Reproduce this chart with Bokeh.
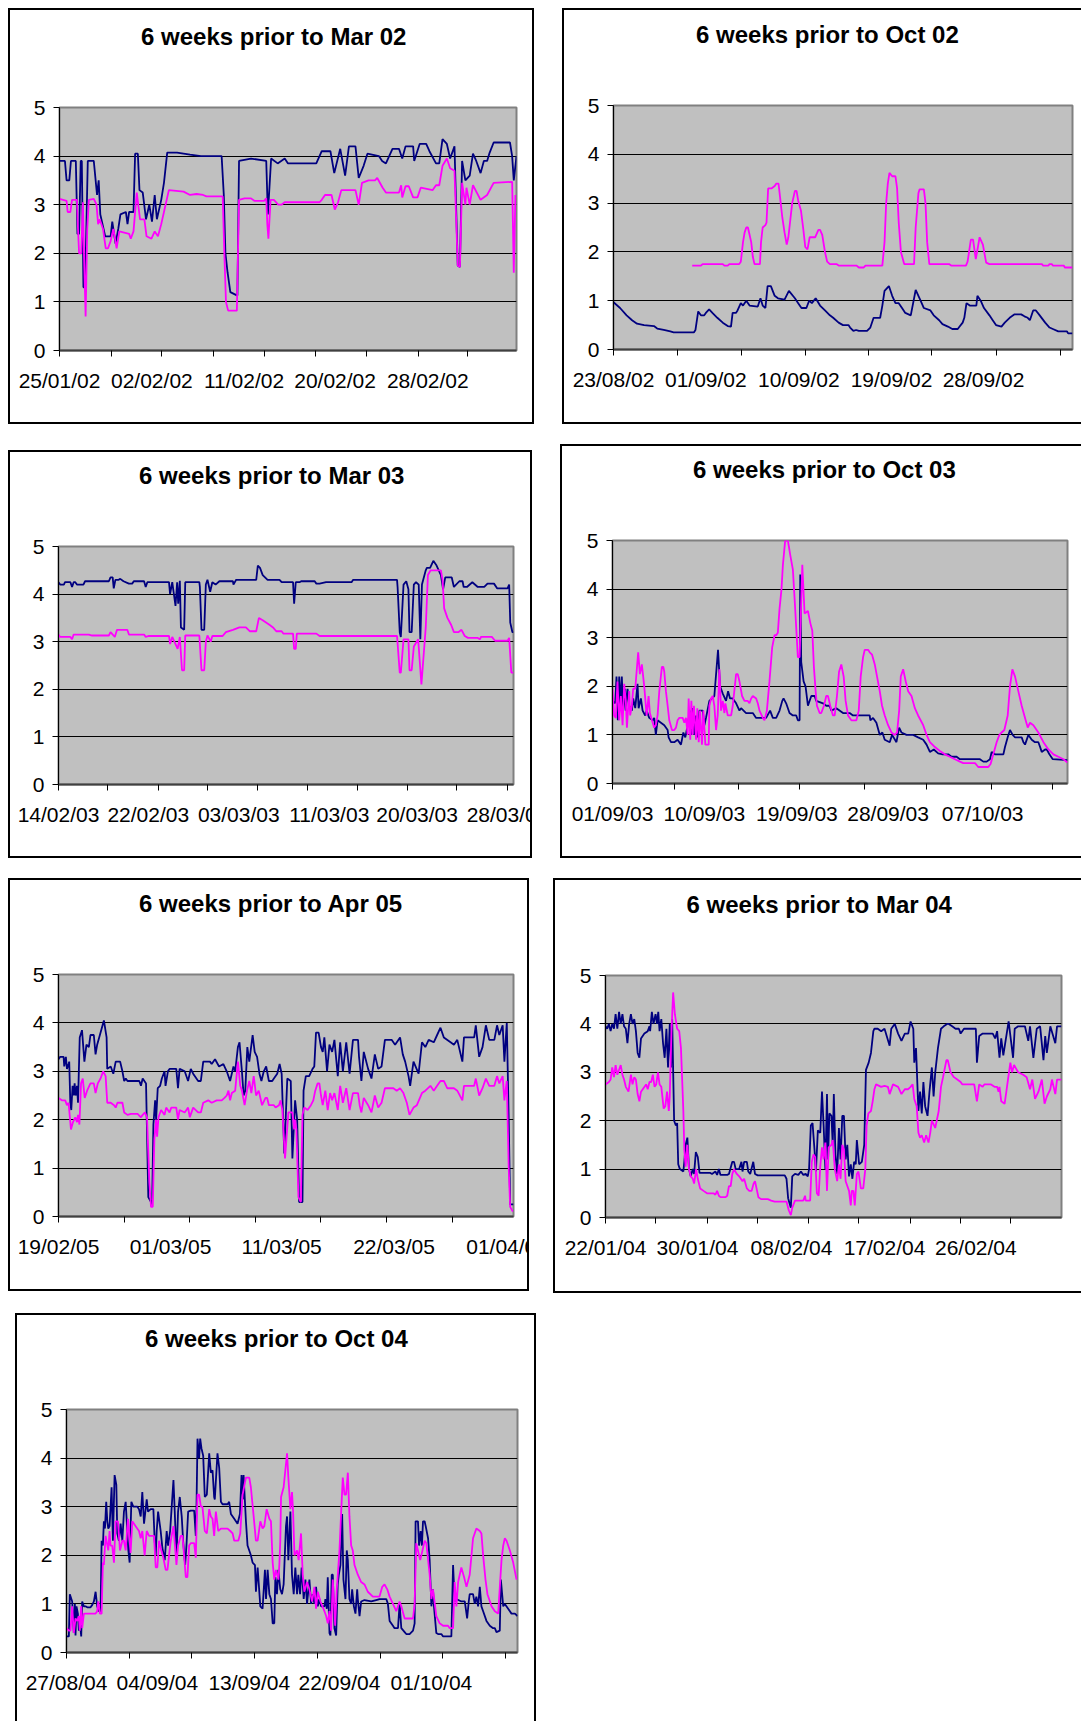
from bokeh.plotting import figure
from bokeh.layouts import column, row
from bokeh.models import FixedTicker, Spacer, Range1d, Title
from bokeh.embed import file_html
from bokeh.resources import INLINE

NAVY = "#000080"
MAGENTA = "#FF00FF"
FONT = "Liberation Sans"

# ---------------- 6 weeks prior to Mar 02 ----------------
mar02_title = "6 weeks prior to Mar 02"
mar02_label_days = [0, 8.49, 16.96, 25.33, 33.85]
mar02_labels = ["25/01/02", "02/02/02", "11/02/02", "20/02/02", "28/02/02"]
mar02_tick_days = [0, 4.77, 9.39, 14.13, 18.82, 23.56, 28.18, 32.98, 37.54]
mar02_navy = [
    (0, 3.9), (0.5, 3.9), (0.65, 3.5), (0.9, 3.5), (1.05, 3.9), (1.5, 3.9), (1.65, 2.4), (1.8, 2.4), (1.95, 3.9), (2.05, 3.9),
    (2.2, 1.3), (2.35, 1.3), (2.6, 3.9), (3.15, 3.9), (3.45, 3.2), (3.6, 3.5), (3.75, 2.8), (4.2, 2.35), (4.7, 2.35), (4.85, 2.65),
    (5.15, 2.2), (5.4, 2.5), (5.6, 2.8), (6.1, 2.85), (6.25, 2.6), (6.4, 2.85), (6.8, 2.85), (6.95, 4.05), (7.2, 4.05), (7.35, 3.3),
    (7.65, 3.25), (7.95, 2.7), (8.25, 3.0), (8.5, 2.65), (8.75, 3.2), (8.95, 2.7), (9.35, 3.1), (9.6, 3.45), (9.9, 4.07), (10.8, 4.07),
    (12.0, 4.03), (13.0, 4.0), (14.9, 4.0), (15.1, 3.2), (15.25, 2.0), (15.45, 1.6), (15.7, 1.2), (16.35, 1.13), (16.5, 3.9), (17.6, 3.95),
    (19.0, 3.9), (19.15, 2.8), (19.45, 3.95), (20.05, 3.85), (20.7, 3.95), (21.0, 3.85), (23.6, 3.85), (24.1, 4.1), (24.9, 4.1), (25.25, 3.65),
    (25.8, 4.15), (26.25, 3.6), (26.6, 4.2), (27.2, 4.2), (27.5, 3.55), (27.95, 3.8), (28.3, 4.05), (29.35, 4.0), (29.65, 3.9), (30.0, 3.85),
    (30.6, 4.15), (31.2, 4.15), (31.5, 3.95), (31.8, 4.2), (32.5, 4.2), (32.6, 3.9), (33.1, 4.25), (33.7, 4.25), (34.0, 4.1), (34.6, 3.85),
    (34.9, 3.85), (35.2, 4.35), (35.6, 4.25), (35.9, 3.95), (36.3, 4.2), (36.6, 1.75), (36.8, 1.72), (37.0, 3.9), (37.3, 3.5), (37.7, 3.6),
    (38.0, 4.05), (38.3, 3.9), (38.7, 3.65), (39.0, 3.9), (39.3, 3.9), (39.5, 4.05), (39.9, 4.28), (41.4, 4.28), (41.6, 4.0), (41.75, 3.5), (42.0, 4.0),
]
mar02_magenta = [
    (0, 3.12), (0.65, 3.08), (0.75, 2.85), (1.0, 2.85), (1.15, 3.1), (1.6, 3.1), (1.7, 2.5), (1.8, 2.0), (2.0, 2.0), (2.15, 3.05),
    (2.25, 2.0), (2.4, 0.7), (2.55, 2.5), (2.7, 3.1), (3.15, 3.12), (3.4, 3.0), (3.55, 2.6), (3.7, 2.7), (4.0, 2.5), (4.25, 2.1),
    (4.45, 2.1), (4.7, 2.25), (4.95, 2.5), (5.25, 2.1), (5.5, 2.45), (6.4, 2.4), (6.55, 2.3), (6.8, 2.45), (7.1, 3.25), (7.4, 2.7),
    (7.8, 2.7), (8.0, 2.35), (8.45, 2.3), (8.75, 2.45), (9.05, 2.35), (9.35, 2.6), (9.65, 2.9), (10.05, 3.3), (11.4, 3.27), (12.0, 3.2),
    (12.6, 3.22), (13.2, 3.2), (13.5, 3.17), (15.0, 3.17), (15.15, 2.0), (15.3, 1.0), (15.5, 0.82), (16.3, 0.82), (16.5, 3.1), (17.0, 3.13),
    (17.6, 3.13), (17.9, 3.08), (18.8, 3.08), (19.0, 3.13), (19.1, 2.6), (19.2, 2.3), (19.4, 3.1), (19.7, 3.1), (20.1, 3.0), (20.4, 3.0),
    (20.7, 3.05), (23.9, 3.05), (24.1, 3.1), (24.4, 3.2), (25.0, 3.2), (25.3, 2.9), (25.6, 3.05), (25.9, 3.3), (27.2, 3.3), (27.5, 3.0),
    (27.8, 3.45), (28.4, 3.5), (29.0, 3.5), (29.2, 3.55), (29.7, 3.35), (30.0, 3.25), (31.2, 3.25), (31.4, 3.4), (31.5, 3.15), (31.8, 3.38),
    (32.1, 3.38), (32.5, 3.15), (32.9, 3.15), (33.2, 3.35), (34.3, 3.3), (34.6, 3.4), (34.9, 3.4), (35.2, 3.8), (35.6, 3.95), (35.9, 3.75),
    (36.3, 3.7), (36.6, 1.75), (36.8, 1.72), (37.0, 3.45), (37.3, 3.0), (37.4, 3.35), (37.7, 3.0), (38.0, 3.4), (38.7, 3.1), (39.3, 3.2),
    (39.9, 3.45), (41.6, 3.47), (41.75, 1.6), (41.9, 3.2),
]

# ---------------- 6 weeks prior to Oct 02 ----------------
oct02_title = "6 weeks prior to Oct 02"
oct02_label_days = [0, 8.45, 16.96, 25.44, 33.86]
oct02_labels = ["23/08/02", "01/09/02", "10/09/02", "19/09/02", "28/09/02"]
oct02_tick_days = [0, 5.9, 11.67, 17.54, 23.35, 29.12, 35.02, 40.92]
oct02_navy = [
    (0, 0.97), (0.6, 0.85), (1.2, 0.7), (1.7, 0.6), (2.15, 0.53), (2.8, 0.5), (3.7, 0.48), (4.0, 0.43), (4.6, 0.4), (5.2, 0.37),
    (5.5, 0.35), (7.35, 0.35), (7.5, 0.4), (7.75, 0.78), (8.0, 0.7), (8.3, 0.7), (8.45, 0.75), (8.75, 0.82), (9.05, 0.75), (9.5, 0.65),
    (10.0, 0.55), (10.45, 0.48), (10.75, 0.47), (10.9, 0.75), (11.2, 0.75), (11.35, 0.8), (11.65, 0.95), (11.85, 0.9), (12.15, 1.0), (12.45, 0.9),
    (13.2, 0.88), (13.45, 1.05), (13.65, 0.9), (13.9, 0.85), (14.1, 1.3), (14.4, 1.3), (14.75, 1.1), (15.05, 1.05), (15.65, 1.02), (16.05, 1.2),
    (16.6, 1.05), (16.9, 0.95), (17.2, 0.85), (17.65, 0.85), (17.9, 1.0), (18.15, 0.95), (18.5, 1.05), (18.9, 0.9), (19.35, 0.8), (19.8, 0.7),
    (20.1, 0.65), (20.6, 0.55), (21.0, 0.5), (21.5, 0.5), (21.65, 0.45), (21.95, 0.38), (22.2, 0.4), (22.45, 0.38), (23.2, 0.38), (23.5, 0.45),
    (23.8, 0.65), (24.4, 0.65), (24.6, 0.9), (24.8, 1.2), (25.2, 1.3), (25.5, 1.1), (25.8, 0.95), (26.1, 0.95), (26.4, 0.85), (26.7, 0.75),
    (27.2, 0.7), (27.65, 1.22), (28.1, 1.0), (28.4, 0.85), (29.0, 0.8), (29.3, 0.7), (29.8, 0.6), (30.1, 0.52), (30.6, 0.47), (31.0, 0.42),
    (31.5, 0.42), (31.6, 0.45), (31.95, 0.55), (32.1, 0.65), (32.3, 0.95), (32.6, 0.9), (33.2, 0.9), (33.3, 1.1), (33.6, 1.0), (33.9, 0.85),
    (34.4, 0.7), (34.7, 0.6), (35.0, 0.5), (35.5, 0.47), (35.8, 0.55), (36.25, 0.65), (36.7, 0.72), (37.3, 0.72), (37.6, 0.68), (37.9, 0.65),
    (38.1, 0.6), (38.4, 0.8), (38.65, 0.8), (39.0, 0.7), (39.5, 0.55), (39.9, 0.45), (40.2, 0.42), (40.7, 0.37), (41.5, 0.37), (41.6, 0.33), (42.0, 0.33),
]
oct02_magenta = [
    (7.2, 1.72), (8.0, 1.72), (8.15, 1.75), (10.0, 1.75), (10.15, 1.72), (10.45, 1.72), (10.6, 1.75), (11.5, 1.75), (11.65, 1.8), (11.85, 2.2),
    (12.0, 2.4), (12.15, 2.5), (12.3, 2.5), (12.45, 2.35), (12.6, 2.2), (12.75, 1.9), (12.9, 1.75), (13.4, 1.75), (13.5, 2.2), (13.65, 2.5),
    (13.9, 2.55), (14.0, 2.6), (14.15, 3.3), (14.45, 3.3), (14.75, 3.35), (14.9, 3.4), (15.1, 3.4), (15.25, 3.1), (15.45, 2.7), (15.65, 2.4),
    (15.85, 2.15), (16.0, 2.3), (16.15, 2.6), (16.35, 3.0), (16.6, 3.25), (16.75, 3.25), (16.9, 3.05), (17.15, 2.85), (17.35, 2.5), (17.55, 2.1),
    (17.75, 2.05), (17.95, 2.3), (18.45, 2.3), (18.75, 2.45), (18.9, 2.45), (19.1, 2.35), (19.35, 2.0), (19.55, 1.8), (19.8, 1.75), (20.4, 1.75),
    (20.6, 1.72), (22.25, 1.72), (22.45, 1.68), (22.9, 1.68), (23.05, 1.72), (24.6, 1.72), (24.8, 2.2), (24.95, 3.0), (25.1, 3.4), (25.25, 3.62),
    (25.5, 3.55), (25.8, 3.55), (25.95, 3.3), (26.1, 2.6), (26.3, 2.0), (26.6, 1.75), (27.5, 1.75), (27.65, 2.5), (27.9, 3.2), (28.0, 3.28),
    (28.4, 3.28), (28.55, 3.0), (28.7, 2.2), (28.9, 1.75), (30.7, 1.75), (30.9, 1.72), (32.25, 1.72), (32.4, 1.8), (32.7, 2.25), (32.9, 2.25),
    (33.15, 1.85), (33.5, 2.3), (33.8, 2.15), (34.1, 1.78), (34.4, 1.75), (39.2, 1.75), (39.3, 1.72), (39.8, 1.72), (39.9, 1.75), (40.1, 1.75),
    (40.2, 1.72), (41.2, 1.72), (41.3, 1.68), (42.0, 1.68),
]

# ---------------- 6 weeks prior to Mar 03 ----------------
mar03_title = "6 weeks prior to Mar 03"
mar03_label_days = [0, 8.29, 16.64, 24.99, 33.1, 41.45]
mar03_labels = ["14/02/03", "22/02/03", "03/03/03", "11/03/03", "20/03/03", "28/03/03"]
mar03_tick_days = [0, 4.55, 9.22, 13.73, 18.4, 22.98, 27.56, 32.23, 36.78, 41.45]
mar03_navy = [
    (0, 4.25), (0.15, 4.2), (0.5, 4.2), (0.6, 4.25), (1.1, 4.25), (1.25, 4.15), (1.4, 4.25), (1.55, 4.25), (1.7, 4.2), (2.3, 4.2),
    (2.45, 4.27), (4.65, 4.27), (4.8, 4.35), (5.0, 4.35), (5.1, 4.12), (5.25, 4.3), (5.55, 4.3), (5.7, 4.32), (6.0, 4.27), (6.5, 4.22),
    (6.8, 4.22), (6.95, 4.27), (7.9, 4.27), (8.05, 4.15), (8.2, 4.25), (10.2, 4.25), (10.3, 4.0), (10.5, 4.25), (10.8, 3.75), (10.95, 4.25),
    (11.05, 3.8), (11.2, 4.28), (11.3, 3.3), (11.6, 3.25), (11.7, 4.25), (13.0, 4.25), (13.05, 4.15), (13.2, 3.25), (13.45, 3.25), (13.6, 4.2),
    (13.75, 4.3), (14.0, 4.05), (14.2, 4.25), (14.5, 4.2), (14.85, 4.27), (16.1, 4.27), (16.15, 4.2), (16.4, 4.3), (18.25, 4.3), (18.4, 4.6),
    (18.6, 4.55), (18.85, 4.4), (19.3, 4.3), (20.4, 4.3), (20.6, 4.25), (21.65, 4.25), (21.75, 3.8), (21.9, 4.25), (22.25, 4.25), (22.4, 4.27),
    (23.65, 4.27), (23.8, 4.22), (24.1, 4.22), (24.7, 4.25), (27.05, 4.25), (27.2, 4.3), (31.25, 4.3), (31.3, 4.15), (31.5, 3.2), (31.6, 3.1),
    (31.85, 4.2), (32.1, 4.27), (32.3, 4.1), (32.4, 3.2), (32.6, 3.2), (32.8, 4.2), (33.0, 4.25), (33.25, 4.2), (33.4, 3.05), (33.55, 4.2),
    (33.9, 4.5), (34.0, 4.55), (34.3, 4.55), (34.6, 4.7), (34.9, 4.6), (35.3, 4.4), (35.5, 4.1), (35.7, 4.35), (36.3, 4.35), (36.5, 4.15),
    (37.0, 4.27), (37.3, 4.27), (37.4, 4.15), (37.7, 4.15), (38.2, 4.25), (38.7, 4.15), (39.3, 4.15), (39.6, 4.22), (40.2, 4.22), (40.5, 4.12),
    (41.45, 4.12), (41.6, 4.2), (41.7, 3.4), (41.9, 3.2), (42.0, 3.2),
]
mar03_magenta = [
    (0, 3.15), (0.15, 3.1), (1.1, 3.1), (1.25, 3.05), (1.4, 3.15), (2.8, 3.15), (3.1, 3.13), (4.65, 3.13), (4.8, 3.2), (5.2, 3.1),
    (5.4, 3.25), (6.35, 3.25), (6.5, 3.15), (7.9, 3.15), (8.05, 3.1), (8.35, 3.12), (10.2, 3.12), (10.3, 2.95), (10.5, 3.1), (11.0, 2.85),
    (11.2, 3.1), (11.4, 2.4), (11.6, 2.4), (11.7, 3.13), (13.0, 3.13), (13.2, 2.4), (13.45, 2.4), (13.6, 3.0), (13.75, 3.13), (14.05, 3.0),
    (14.2, 3.12), (15.15, 3.12), (15.45, 3.2), (16.1, 3.25), (16.7, 3.3), (17.3, 3.3), (17.65, 3.22), (18.25, 3.22), (18.5, 3.5), (18.85, 3.45),
    (19.5, 3.35), (19.8, 3.3), (20.1, 3.22), (20.6, 3.22), (20.75, 3.17), (21.65, 3.17), (21.75, 2.85), (21.9, 2.85), (22.0, 3.17), (23.8, 3.17),
    (24.1, 3.12), (31.25, 3.12), (31.5, 2.35), (31.6, 2.35), (31.85, 3.05), (32.3, 3.05), (32.4, 2.4), (32.6, 2.4), (32.8, 2.9), (33.2, 3.05),
    (33.5, 2.1), (33.8, 3.0), (33.9, 3.3), (34.1, 4.4), (34.35, 4.5), (35.3, 4.5), (35.45, 4.3), (35.6, 3.7), (35.9, 3.5), (36.25, 3.35),
    (36.5, 3.2), (36.9, 3.2), (37.2, 3.25), (37.5, 3.12), (37.8, 3.08), (38.7, 3.08), (38.9, 3.05), (39.0, 3.1), (40.0, 3.1), (40.3, 3.02),
    (41.45, 3.02), (41.6, 3.08), (41.8, 2.35), (42.0, 2.35),
]

# ---------------- 6 weeks prior to Oct 03 ----------------
oct03_title = "6 weeks prior to Oct 03"
oct03_label_days = [0, 8.48, 17.02, 25.44, 34.17]
oct03_labels = ["01/09/03", "10/09/03", "19/09/03", "28/09/03", "07/10/03"]
oct03_tick_days = [0, 5.7, 11.63, 17.3, 23.25, 28.99, 34.94, 40.64]
oct03_navy = [
    (0, 1.7), (0.25, 1.65), (0.37, 2.2), (0.49, 1.3), (0.62, 2.2), (0.71, 1.6), (0.86, 2.2), (0.99, 1.5), (1.17, 1.95), (1.23, 1.5),
    (1.39, 1.95), (1.54, 1.6), (1.79, 1.5), (1.91, 1.75), (2.1, 1.55), (2.31, 2.05), (2.41, 1.55), (2.62, 1.75), (2.78, 1.5), (3.02, 1.4),
    (3.15, 1.5), (3.39, 1.35), (3.7, 1.3), (3.85, 1.35), (4.0, 1.0), (4.16, 1.3), (4.47, 1.25), (4.78, 1.2), (5.09, 1.1), (5.18, 0.95),
    (5.4, 0.85), (5.7, 0.85), (6.01, 0.9), (6.32, 0.8), (6.54, 1.05), (6.72, 0.95), (6.94, 1.2), (7.15, 1.5), (7.25, 1.0), (7.4, 1.55),
    (7.55, 1.0), (7.71, 1.4), (7.86, 0.95), (8.02, 1.5), (8.33, 1.5), (8.48, 1.2), (8.63, 1.35), (8.94, 1.7), (9.4, 1.8), (9.74, 2.75),
    (9.93, 2.0), (10.18, 1.85), (10.48, 1.7), (10.67, 1.9), (10.85, 1.75), (11.1, 1.75), (11.41, 1.65), (11.72, 1.5), (11.87, 1.55), (12.33, 1.45),
    (12.95, 1.45), (13.26, 1.35), (14.18, 1.35), (14.55, 1.5), (14.8, 1.35), (15.11, 1.35), (15.42, 1.5), (15.67, 1.7), (15.79, 1.75), (16.03, 1.65),
    (16.34, 1.45), (16.65, 1.4), (16.96, 1.4), (17.11, 1.3), (17.27, 1.3), (17.33, 4.3), (17.42, 2.5), (17.64, 2.1), (17.82, 2.0), (18.04, 1.6),
    (18.35, 1.8), (18.66, 1.8), (18.81, 1.7), (19.43, 1.65), (19.73, 1.6), (20.04, 1.6), (20.2, 1.5), (20.66, 1.55), (21.28, 1.45), (21.89, 1.45),
    (22.2, 1.4), (23.74, 1.4), (23.8, 1.3), (24.05, 1.35), (24.36, 1.25), (24.67, 1.0), (24.91, 1.05), (25.13, 0.9), (25.59, 0.85), (25.81, 1.0),
    (26.21, 0.85), (26.46, 1.15), (26.67, 1.05), (27.14, 1.0), (27.75, 1.0), (28.21, 0.95), (28.68, 0.9), (28.99, 0.8), (29.3, 0.65), (29.66, 0.7),
    (30.06, 0.62), (30.47, 0.6), (30.99, 0.6), (31.3, 0.55), (31.76, 0.55), (32.07, 0.5), (33.92, 0.5), (34.23, 0.45), (34.54, 0.45), (34.84, 0.5),
    (35.0, 0.65), (35.3, 0.6), (36.08, 0.6), (36.23, 0.75), (36.48, 0.95), (36.69, 1.1), (36.94, 1.0), (37.16, 0.95), (37.77, 0.95), (37.93, 0.85),
    (38.08, 0.8), (38.39, 1.0), (38.7, 0.9), (39.0, 0.85), (39.31, 0.85), (39.47, 0.75), (39.62, 0.65), (39.93, 0.7), (40.09, 0.7), (40.33, 0.6),
    (40.64, 0.5), (42.0, 0.48),
]
oct03_magenta = [
    (0, 1.95), (0.15, 1.4), (0.31, 1.35), (0.46, 2.1), (0.62, 1.3), (0.77, 1.8), (0.93, 1.2), (1.08, 2.05), (1.23, 1.7), (1.33, 1.15),
    (1.54, 1.9), (1.63, 1.4), (1.79, 1.6), (1.91, 1.95), (2.1, 1.95), (2.37, 2.7), (2.53, 2.25), (2.71, 2.45), (2.93, 2.0), (3.15, 1.4),
    (3.33, 1.8), (3.45, 1.45), (3.64, 1.3), (3.85, 1.15), (4.0, 1.2), (4.16, 1.4), (4.32, 1.9), (4.56, 2.4), (4.69, 2.4), (4.78, 2.3),
    (4.93, 1.9), (5.09, 1.6), (5.24, 1.3), (5.49, 1.1), (5.7, 1.1), (5.86, 1.15), (6.01, 1.3), (6.17, 1.35), (6.48, 1.35), (6.63, 1.25),
    (6.78, 1.35), (6.94, 1.0), (7.03, 1.75), (7.18, 0.9), (7.28, 1.7), (7.4, 1.0), (7.52, 1.6), (7.71, 0.9), (7.83, 1.55), (7.96, 0.85),
    (8.08, 1.5), (8.26, 0.8), (8.39, 1.5), (8.57, 0.8), (8.88, 0.8), (8.94, 1.6), (9.1, 1.75), (9.25, 1.8), (9.4, 1.6), (9.56, 1.1),
    (9.71, 1.4), (9.87, 2.35), (10.02, 1.5), (10.18, 1.7), (10.33, 1.45), (10.42, 1.65), (10.64, 1.4), (10.95, 1.4), (11.1, 1.6), (11.41, 2.25),
    (11.56, 2.25), (11.72, 2.1), (11.96, 1.8), (12.18, 1.7), (12.49, 1.7), (12.64, 1.65), (12.8, 1.75), (12.95, 1.8), (13.26, 1.75), (13.41, 1.65),
    (13.57, 1.5), (13.88, 1.35), (14.03, 1.3), (14.25, 1.5), (14.49, 2.1), (14.74, 2.8), (14.96, 3.05), (15.11, 3.05), (15.26, 3.1), (15.42, 3.6),
    (15.6, 4.0), (15.73, 4.5), (15.94, 5.0), (16.19, 5.0), (16.41, 4.7), (16.65, 4.4), (16.81, 3.8), (16.96, 3.2), (17.11, 2.6), (17.27, 2.6),
    (17.52, 4.5), (17.73, 3.5), (18.04, 3.55), (18.26, 3.3), (18.44, 3.15), (18.59, 2.4), (18.75, 1.9), (18.87, 1.6), (19.12, 1.45), (19.27, 1.45),
    (19.52, 1.6), (19.73, 1.8), (19.89, 1.8), (20.1, 1.6), (20.35, 1.4), (20.51, 1.4), (20.72, 1.8), (20.91, 2.3), (21.12, 2.45), (21.34, 2.2),
    (21.52, 1.7), (21.74, 1.4), (22.05, 1.3), (22.51, 1.3), (22.73, 1.5), (22.91, 2.2), (23.13, 2.6), (23.28, 2.75), (23.59, 2.75), (23.74, 2.7),
    (23.96, 2.65), (24.21, 2.45), (24.42, 2.2), (24.67, 1.9), (24.88, 1.6), (25.13, 1.4), (25.44, 1.2), (25.75, 1.05), (26.06, 1.0), (26.27, 1.05),
    (26.46, 1.5), (26.61, 2.2), (26.83, 2.35), (27.07, 2.1), (27.29, 1.9), (27.6, 1.8), (27.91, 1.55), (28.21, 1.4), (28.68, 1.2), (28.99, 1.0),
    (29.3, 0.85), (29.76, 0.75), (30.22, 0.67), (30.68, 0.6), (31.14, 0.55), (31.61, 0.5), (32.07, 0.45), (32.38, 0.42), (33.46, 0.42), (33.61, 0.38),
    (33.76, 0.34), (34.69, 0.34), (34.9, 0.4), (35.15, 0.6), (35.46, 0.85), (35.71, 1.0), (35.92, 1.05), (36.17, 1.1), (36.48, 1.4), (36.69, 2.0),
    (36.91, 2.35), (37.16, 2.2), (37.46, 1.9), (37.77, 1.6), (38.08, 1.35), (38.33, 1.15), (38.54, 1.25), (38.85, 1.2), (39.31, 1.05), (39.78, 0.85),
    (40.24, 0.7), (40.7, 0.6), (41.16, 0.55), (41.63, 0.5), (42.0, 0.43),
]

# ---------------- 6 weeks prior to Apr 05 ----------------
apr05_title = "6 weeks prior to Apr 05"
apr05_label_days = [0, 10.34, 20.6, 30.97, 41.41]
apr05_labels = ["19/02/05", "01/03/05", "11/03/05", "22/03/05", "01/04/05"]
apr05_tick_days = [0, 6.12, 12.05, 18.17, 24.14, 30.29, 36.41]
apr05_navy = [
    (0, 3.25), (0.16, 3.3), (0.47, 3.3), (0.53, 3.1), (0.68, 3.3), (0.78, 3.05), (0.93, 3.15), (0.99, 3.2), (1.09, 2.35), (1.18, 2.2),
    (1.3, 2.7), (1.4, 2.5), (1.49, 2.75), (1.58, 2.5), (1.71, 2.7), (1.8, 2.35), (1.96, 3.7), (2.17, 3.85), (2.39, 3.2), (2.58, 3.55),
    (2.8, 3.5), (2.95, 3.75), (3.26, 3.75), (3.42, 3.35), (3.57, 3.55), (3.82, 3.75), (4.19, 4.05), (4.44, 3.7), (4.5, 3.05), (4.82, 3.1),
    (5.06, 2.95), (5.28, 3.2), (5.69, 3.2), (5.9, 3.0), (6.06, 2.8), (6.21, 2.85), (6.37, 2.8), (7.46, 2.8), (7.61, 2.7), (7.77, 2.85),
    (8.08, 2.75), (8.29, 0.4), (8.54, 0.3), (8.64, 0.25), (8.76, 1.9), (8.92, 2.4), (9.01, 2.0), (9.16, 2.65), (9.38, 2.7), (9.54, 2.85),
    (9.79, 3.0), (9.88, 2.7), (10.1, 3.0), (10.25, 3.05), (10.87, 3.05), (11.03, 2.65), (11.18, 3.05), (11.65, 3.0), (11.96, 2.8), (12.21, 3.05),
    (12.43, 2.95), (12.89, 2.8), (13.14, 2.8), (13.36, 3.2), (13.98, 3.2), (14.14, 3.15), (14.45, 3.25), (14.82, 3.1), (15.22, 3.15), (15.53, 3.0),
    (15.84, 2.8), (16.15, 3.1), (16.31, 3.0), (16.56, 3.5), (16.71, 3.6), (16.93, 3.0), (17.09, 2.5), (17.24, 2.6), (17.43, 3.5), (17.61, 3.2),
    (17.92, 3.75), (18.11, 3.4), (18.33, 3.3), (18.55, 2.95), (18.73, 2.8), (18.95, 3.0), (19.17, 3.1), (19.42, 2.8), (19.73, 2.8), (19.88, 2.85),
    (20.19, 2.95), (20.41, 3.15), (20.6, 2.95), (20.84, 1.3), (21.12, 2.85), (21.44, 2.8), (21.59, 1.2), (21.84, 2.4), (22.03, 2.0), (22.21, 0.3),
    (22.52, 0.3), (22.62, 2.6), (22.83, 2.9), (23.14, 2.9), (23.45, 3.05), (23.61, 3.1), (23.77, 3.8), (24.01, 3.8), (24.23, 3.5), (24.39, 3.4),
    (24.54, 3.7), (24.79, 3.0), (25.01, 3.55), (25.26, 3.4), (25.47, 3.65), (25.78, 2.9), (26.0, 3.6), (26.25, 3.0), (26.56, 3.6), (26.87, 2.95),
    (27.18, 3.65), (27.65, 3.65), (27.74, 3.3), (27.96, 2.8), (28.18, 3.4), (28.58, 3.05), (28.89, 2.85), (29.2, 3.35), (29.51, 3.05), (29.82, 3.1),
    (30.13, 3.65), (30.75, 3.65), (31.07, 3.55), (31.53, 3.7), (31.78, 3.35), (32.0, 3.2), (32.31, 2.9), (32.46, 2.7), (32.77, 3.2), (33.24, 2.95),
    (33.55, 3.6), (33.86, 3.5), (34.17, 3.65), (34.64, 3.6), (34.95, 3.75), (35.26, 3.9), (35.57, 3.7), (36.19, 3.6), (36.5, 3.55), (36.81, 3.65),
    (37.28, 3.2), (37.43, 3.7), (38.37, 3.7), (38.52, 3.95), (38.83, 3.3), (39.14, 3.5), (39.45, 3.95), (39.76, 3.65), (40.23, 3.65), (40.48, 3.95),
    (40.69, 3.75), (41.0, 3.95), (41.16, 3.2), (41.38, 4.0), (41.56, 2.0), (41.69, 0.25), (42.0, 0.25),
]
apr05_magenta = [
    (0, 2.45), (0.31, 2.4), (0.62, 2.4), (0.78, 2.3), (0.93, 2.35), (1.03, 2.1), (1.15, 1.8), (1.34, 1.95), (1.55, 2.05), (1.71, 1.95),
    (1.8, 2.1), (1.93, 1.9), (2.08, 2.75), (2.24, 2.85), (2.42, 2.45), (2.64, 2.6), (2.95, 2.75), (3.26, 2.75), (3.42, 2.55), (3.63, 2.75),
    (3.88, 2.85), (4.13, 3.0), (4.35, 2.9), (4.5, 2.35), (4.82, 2.35), (5.13, 2.3), (5.28, 2.25), (5.44, 2.35), (5.9, 2.35), (6.06, 2.15),
    (6.37, 2.1), (6.68, 2.12), (7.3, 2.12), (7.61, 2.05), (7.77, 2.1), (7.98, 2.15), (8.17, 2.05), (8.39, 0.7), (8.54, 0.2), (8.7, 0.2),
    (8.85, 1.6), (9.01, 2.0), (9.1, 1.65), (9.23, 2.05), (9.47, 2.2), (9.79, 2.1), (9.94, 2.25), (10.25, 2.15), (10.41, 2.25), (10.87, 2.25),
    (11.03, 2.0), (11.18, 2.2), (11.65, 2.15), (11.96, 2.25), (12.12, 2.05), (12.43, 2.25), (12.89, 2.15), (13.14, 2.15), (13.36, 2.35), (13.82, 2.4),
    (14.14, 2.35), (14.6, 2.4), (15.07, 2.4), (15.32, 2.45), (15.53, 2.5), (15.69, 2.6), (15.84, 2.4), (16.0, 2.55), (16.31, 2.6), (16.56, 3.2),
    (16.78, 2.7), (16.93, 2.6), (17.18, 2.3), (17.4, 2.6), (17.61, 2.8), (17.8, 2.55), (18.02, 2.9), (18.24, 2.5), (18.48, 2.6), (18.79, 2.3),
    (19.11, 2.45), (19.26, 2.45), (19.42, 2.3), (19.88, 2.3), (20.04, 2.25), (20.35, 2.3), (20.5, 2.4), (20.66, 2.2), (20.91, 1.2), (21.22, 2.15),
    (21.59, 2.15), (21.75, 1.8), (21.84, 2.0), (21.96, 1.8), (22.15, 0.4), (22.37, 0.3), (22.52, 2.1), (22.68, 2.25), (22.99, 2.2), (23.3, 2.3),
    (23.52, 2.4), (23.7, 2.6), (23.92, 2.75), (24.08, 2.75), (24.23, 2.5), (24.39, 2.3), (24.63, 2.6), (24.85, 2.2), (25.07, 2.55), (25.26, 2.4),
    (25.47, 2.55), (25.78, 2.2), (26.0, 2.7), (26.25, 2.35), (26.56, 2.65), (26.87, 2.2), (27.18, 2.55), (27.65, 2.55), (27.8, 2.3), (27.96, 2.15),
    (28.18, 2.45), (28.58, 2.3), (28.89, 2.15), (29.2, 2.5), (29.51, 2.25), (29.82, 2.35), (30.13, 2.65), (30.91, 2.65), (31.22, 2.6), (31.53, 2.65),
    (31.84, 2.55), (32.15, 2.35), (32.4, 2.1), (32.77, 2.25), (33.08, 2.3), (33.55, 2.55), (33.86, 2.6), (34.33, 2.7), (34.64, 2.6), (34.95, 2.7),
    (35.26, 2.8), (35.57, 2.8), (35.88, 2.65), (36.5, 2.65), (36.81, 2.6), (37.28, 2.4), (37.43, 2.7), (38.37, 2.7), (38.52, 2.85), (38.83, 2.5),
    (39.14, 2.65), (39.45, 2.85), (39.76, 2.7), (40.23, 2.7), (40.48, 2.9), (40.69, 2.75), (41.0, 2.9), (41.16, 2.4), (41.38, 2.8), (41.56, 1.0),
    (41.69, 0.2), (41.94, 0.1),
]

# ---------------- 6 weeks prior to Mar 04 ----------------
mar04_title = "6 weeks prior to Mar 04"
mar04_label_days = [0, 8.47, 17.13, 25.7, 34.11]
mar04_labels = ["22/01/04", "30/01/04", "08/02/04", "17/02/04", "26/02/04"]
mar04_tick_days = [0, 4.64, 9.41, 14.02, 18.69, 23.3, 28.07, 32.71, 37.32]
mar04_navy = [
    (0, 3.95), (0.16, 3.9), (0.31, 4.0), (0.47, 3.85), (0.62, 4.0), (0.78, 3.9), (0.93, 4.2), (1.09, 3.9), (1.25, 4.25), (1.4, 4.0),
    (1.56, 4.2), (1.71, 3.95), (1.87, 3.9), (2.02, 3.6), (2.18, 4.0), (2.34, 4.2), (2.49, 4.0), (2.65, 4.1), (2.8, 3.85), (2.96, 3.4),
    (3.12, 3.3), (3.27, 3.7), (3.58, 3.8), (3.89, 3.85), (4.05, 3.95), (4.11, 3.85), (4.27, 4.25), (4.42, 4.0), (4.61, 4.2), (4.74, 4.0),
    (4.86, 4.25), (4.98, 3.85), (5.14, 4.1), (5.3, 3.6), (5.45, 3.3), (5.61, 3.9), (5.76, 3.1), (5.92, 4.0), (6.04, 3.1), (6.14, 4.1),
    (6.32, 2.0), (6.48, 1.9), (6.6, 1.95), (6.7, 1.1), (6.85, 1.0), (7.17, 0.95), (7.26, 1.15), (7.38, 1.5), (7.54, 1.65), (7.69, 1.0),
    (7.85, 0.85), (8.04, 1.0), (8.16, 0.9), (8.32, 1.35), (8.5, 1.25), (8.66, 0.92), (9.66, 0.92), (9.81, 0.9), (10.12, 0.95), (10.28, 0.88),
    (10.44, 1.0), (10.59, 0.88), (11.21, 0.88), (11.37, 0.9), (11.68, 1.15), (11.84, 1.15), (11.99, 1.0), (12.31, 1.0), (12.52, 1.15), (12.62, 0.95),
    (12.77, 1.15), (13.02, 1.15), (13.15, 0.95), (13.33, 0.9), (13.61, 1.15), (13.77, 0.9), (14.02, 0.87), (16.51, 0.87), (16.67, 0.8), (16.82, 0.4),
    (17.07, 0.2), (17.2, 0.85), (17.45, 0.9), (17.76, 0.88), (18.0, 0.95), (18.22, 0.88), (18.44, 0.9), (18.63, 0.85), (18.75, 1.0), (18.91, 1.9),
    (19.07, 1.95), (19.25, 1.4), (19.38, 0.95), (19.56, 1.8), (19.78, 1.75), (19.94, 2.6), (20.09, 1.9), (20.25, 1.0), (20.4, 2.55), (20.5, 1.2),
    (20.62, 2.15), (20.81, 2.1), (20.93, 1.5), (21.03, 2.55), (21.18, 1.3), (21.34, 0.9), (21.5, 1.85), (21.65, 1.2), (21.81, 2.1), (21.96, 2.1),
    (22.12, 1.2), (22.27, 1.5), (22.43, 0.85), (22.59, 1.1), (22.74, 0.8), (22.9, 1.15), (23.05, 1.1), (23.15, 1.6), (23.36, 1.1), (23.61, 1.15),
    (23.83, 1.5), (23.99, 3.05), (24.24, 3.2), (24.45, 3.4), (24.67, 3.85), (24.77, 3.9), (25.08, 3.9), (25.39, 3.85), (25.7, 3.9), (26.17, 3.55),
    (26.32, 3.9), (26.64, 4.0), (26.95, 3.8), (27.26, 3.65), (27.57, 3.8), (27.88, 3.8), (28.1, 4.05), (28.35, 3.9), (28.44, 3.2), (28.6, 3.5),
    (28.82, 2.2), (28.97, 2.6), (29.13, 2.15), (29.28, 2.8), (29.44, 2.3), (29.66, 2.1), (29.84, 2.6), (30.06, 3.1), (30.22, 2.5), (30.37, 3.0),
    (30.62, 3.5), (30.9, 3.9), (31.15, 3.95), (31.46, 4.0), (31.62, 4.0), (31.93, 3.95), (32.24, 3.9), (32.55, 3.9), (32.71, 3.8), (33.02, 3.9),
    (34.11, 3.9), (34.21, 3.2), (34.42, 3.75), (34.74, 3.8), (35.67, 3.8), (35.89, 3.7), (36.07, 3.85), (36.29, 3.3), (36.45, 3.7), (36.64, 3.35),
    (37.13, 4.05), (37.54, 3.3), (37.69, 3.9), (38.01, 3.95), (38.63, 3.95), (38.94, 3.65), (39.1, 3.95), (39.41, 3.3), (39.72, 3.9), (40.03, 3.95),
    (40.34, 3.25), (40.5, 3.75), (40.65, 3.4), (40.97, 3.95), (41.43, 3.6), (41.59, 3.95), (42.0, 3.95),
]
mar04_magenta = [
    (0, 2.75), (0.31, 2.8), (0.47, 2.85), (0.62, 3.1), (0.78, 2.9), (0.93, 3.15), (1.09, 2.95), (1.4, 3.15), (1.56, 2.95), (1.71, 2.85),
    (1.87, 2.7), (2.12, 2.6), (2.34, 2.95), (2.49, 2.75), (2.65, 2.9), (2.8, 2.85), (2.96, 2.55), (3.12, 2.4), (3.27, 2.6), (3.43, 2.65),
    (3.74, 2.75), (3.89, 2.65), (4.05, 2.8), (4.21, 2.8), (4.36, 2.95), (4.52, 2.7), (4.67, 2.75), (4.83, 3.0), (4.98, 2.75), (5.14, 2.7),
    (5.36, 2.25), (5.51, 2.3), (5.67, 2.6), (5.83, 2.2), (5.92, 2.5), (6.07, 3.8), (6.23, 4.65), (6.39, 4.2), (6.6, 3.9), (6.79, 3.85),
    (6.95, 3.5), (7.07, 2.8), (7.17, 2.2), (7.26, 1.4), (7.38, 1.05), (7.54, 1.5), (7.69, 1.0), (7.85, 0.85), (8.04, 0.8), (8.16, 0.7),
    (8.35, 1.0), (8.5, 0.8), (8.72, 0.6), (9.03, 0.55), (9.35, 0.5), (9.97, 0.5), (10.12, 0.47), (10.28, 0.55), (10.44, 0.45), (10.59, 0.42),
    (11.06, 0.42), (11.21, 0.45), (11.37, 0.65), (11.53, 0.65), (11.68, 0.9), (11.84, 1.0), (12.09, 0.9), (12.31, 0.85), (12.62, 0.75), (12.77, 0.8),
    (13.02, 0.6), (13.24, 0.55), (13.46, 0.55), (13.64, 0.7), (13.77, 0.75), (13.96, 0.55), (14.08, 0.42), (14.33, 0.38), (14.95, 0.38), (15.26, 0.35),
    (15.58, 0.33), (16.67, 0.33), (16.88, 0.15), (17.07, 0.05), (17.2, 0.2), (17.45, 0.35), (18.22, 0.35), (18.38, 0.45), (18.44, 0.35), (18.85, 0.35),
    (19.0, 1.15), (19.16, 1.3), (19.31, 1.25), (19.47, 0.5), (19.63, 0.45), (19.78, 1.05), (19.94, 1.45), (20.09, 1.2), (20.25, 1.55), (20.4, 0.55),
    (20.56, 1.45), (20.81, 1.5), (20.93, 1.6), (21.12, 1.0), (21.34, 0.75), (21.5, 1.1), (21.65, 0.8), (21.81, 1.5), (21.96, 1.4), (22.12, 0.75),
    (22.43, 0.55), (22.59, 0.25), (22.68, 0.55), (22.83, 0.55), (22.96, 0.25), (23.15, 0.9), (23.3, 0.95), (23.52, 0.6), (23.74, 0.6), (23.93, 1.0),
    (24.05, 1.9), (24.21, 2.15), (24.45, 2.2), (24.61, 2.4), (24.77, 2.65), (24.92, 2.75), (25.39, 2.7), (25.7, 2.72), (26.01, 2.7), (26.17, 2.55),
    (26.48, 2.75), (26.95, 2.7), (27.26, 2.55), (27.57, 2.65), (27.88, 2.65), (28.1, 2.7), (28.29, 2.75), (28.44, 2.45), (28.66, 2.3), (28.82, 1.75),
    (28.97, 1.65), (29.13, 1.7), (29.35, 1.55), (29.53, 1.7), (29.75, 1.55), (29.91, 1.75), (30.06, 2.0), (30.37, 1.85), (30.69, 2.2), (30.9, 2.7),
    (31.09, 2.9), (31.4, 3.25), (31.53, 3.25), (31.78, 3.0), (32.09, 2.9), (32.4, 2.85), (32.71, 2.8), (32.87, 2.75), (33.96, 2.75), (34.21, 2.4),
    (34.42, 2.75), (34.74, 2.7), (34.89, 2.75), (35.51, 2.75), (35.83, 2.7), (36.07, 2.7), (36.2, 2.6), (36.29, 2.7), (36.45, 2.4), (36.76, 2.35),
    (36.92, 2.6), (37.07, 2.85), (37.29, 3.2), (37.45, 3.0), (37.63, 3.15), (38.01, 3.0), (38.47, 2.95), (38.79, 2.9), (39.1, 2.65), (39.31, 2.85),
    (39.56, 2.45), (39.88, 2.6), (40.19, 2.85), (40.44, 2.35), (40.65, 2.5), (40.97, 2.65), (41.12, 2.85), (41.43, 2.55), (41.59, 2.85), (42.0, 2.85),
]

# ---------------- 6 weeks prior to Oct 04 ----------------
oct04_title = "6 weeks prior to Oct 04"
oct04_label_days = [0, 8.46, 17.02, 25.42, 33.98]
oct04_labels = ["27/08/04", "04/09/04", "13/09/04", "22/09/04", "01/10/04"]
oct04_tick_days = [0, 5.88, 11.67, 17.55, 23.34, 29.22, 34.97, 40.88]
oct04_navy = [
    (0, 0.33), (0.22, 0.33), (0.31, 1.2), (0.53, 1.05), (0.68, 0.4), (0.78, 1.0), (0.84, 0.35), (0.93, 0.95), (1.06, 0.8), (1.15, 0.45),
    (1.24, 0.65), (1.37, 0.33), (1.46, 1.05), (1.62, 0.95), (1.77, 0.95), (1.93, 0.93), (2.24, 0.93), (2.4, 0.98), (2.55, 1.05), (2.71, 1.25),
    (2.86, 0.95), (3.02, 0.85), (3.17, 0.85), (3.27, 2.3), (3.39, 2.2), (3.48, 2.7), (3.58, 2.55), (3.7, 3.1), (3.8, 2.7), (3.89, 2.55),
    (4.01, 2.6), (4.2, 3.4), (4.32, 2.3), (4.48, 3.65), (4.64, 3.45), (4.73, 2.45), (4.88, 2.3), (5.04, 2.65), (5.2, 2.3), (5.35, 2.9),
    (5.51, 3.1), (5.66, 2.5), (5.76, 2.1), (5.88, 1.85), (6.04, 3.1), (6.22, 3.0), (6.6, 3.0), (6.75, 2.95), (6.91, 2.8), (7.06, 3.3),
    (7.22, 2.65), (7.47, 3.15), (7.59, 2.9), (7.84, 2.95), (8.09, 2.95), (8.21, 2.3), (8.31, 2.0), (8.4, 2.5), (8.53, 2.9), (8.77, 2.5),
    (8.93, 2.15), (9.15, 1.9), (9.33, 2.5), (9.46, 2.2), (9.65, 2.5), (9.96, 3.55), (10.08, 2.9), (10.24, 1.95), (10.39, 2.9), (10.55, 3.2),
    (10.73, 2.8), (10.86, 2.3), (11.05, 1.8), (11.17, 2.2), (11.33, 2.9), (11.57, 2.92), (11.89, 2.92), (12.04, 2.4), (12.1, 2.9), (12.2, 4.4),
    (12.35, 4.0), (12.45, 4.4), (12.57, 4.2), (12.73, 4.05), (12.88, 3.2), (13.07, 3.25), (13.29, 4.1), (13.44, 3.7), (13.6, 3.75), (13.75, 3.2),
    (13.81, 3.15), (14.06, 4.1), (14.22, 3.8), (14.38, 3.1), (14.53, 3.05), (15.0, 3.05), (15.15, 3.1), (15.31, 2.85), (15.62, 2.75), (15.93, 2.65),
    (16.15, 2.85), (16.3, 3.65), (16.43, 3.15), (16.49, 3.65), (16.71, 2.7), (16.86, 2.2), (17.17, 2.0), (17.33, 1.85), (17.55, 1.8), (17.64, 1.25),
    (17.8, 1.75), (18.05, 0.95), (18.26, 0.9), (18.48, 1.7), (18.58, 1.1), (18.73, 1.7), (18.89, 1.2), (19.04, 1.1), (19.2, 0.6), (19.35, 0.6),
    (19.45, 1.55), (19.6, 1.2), (19.73, 1.7), (19.91, 1.3), (20.07, 1.2), (20.22, 1.4), (20.44, 2.6), (20.54, 2.8), (20.66, 1.9), (20.85, 2.9),
    (21.0, 1.6), (21.16, 1.2), (21.31, 1.75), (21.47, 1.2), (21.59, 1.6), (21.75, 1.2), (21.9, 1.75), (22.09, 1.1), (22.25, 1.5), (22.4, 1.0),
    (22.62, 1.5), (22.78, 1.0), (22.93, 1.2), (23.09, 1.0), (23.24, 1.35), (23.4, 0.95), (23.55, 1.1), (23.71, 0.95), (24.02, 0.95), (24.11, 1.1),
    (24.24, 0.9), (24.33, 1.55), (24.49, 0.4), (24.58, 0.35), (24.7, 1.6), (24.8, 1.6), (24.95, 0.5), (25.11, 0.35), (25.26, 1.4), (25.36, 1.6),
    (25.51, 1.8), (25.67, 2.85), (25.79, 1.5), (25.98, 1.1), (26.1, 2.1), (26.2, 1.9), (26.35, 1.1), (26.51, 1.0), (26.6, 1.3), (26.76, 0.95),
    (26.91, 0.8), (27.07, 1.3), (27.13, 1.1), (27.29, 0.75), (27.44, 1.05), (27.75, 1.08), (28.38, 1.05), (28.84, 1.08), (29.15, 1.1), (29.78, 1.1),
    (29.93, 1.0), (30.09, 0.65), (30.4, 0.55), (30.55, 0.5), (30.87, 0.5), (31.02, 1.0), (31.18, 0.5), (31.49, 0.42), (31.64, 0.38), (31.95, 0.38),
    (32.27, 0.45), (32.42, 0.6), (32.51, 2.7), (32.73, 2.7), (32.83, 2.2), (32.98, 2.5), (33.1, 2.2), (33.2, 2.7), (33.35, 2.7), (33.45, 2.6),
    (33.67, 2.35), (33.82, 1.9), (33.98, 0.95), (34.13, 1.3), (34.22, 0.95), (34.44, 0.4), (34.6, 0.38), (34.91, 0.38), (35.07, 0.33), (35.84, 0.33),
    (36.0, 1.8), (36.15, 1.05), (36.31, 1.1), (36.77, 1.05), (37.09, 1.05), (37.31, 0.7), (37.46, 1.05), (37.55, 1.2), (37.86, 1.2), (38.02, 1.0),
    (38.17, 1.15), (38.33, 0.95), (38.49, 1.35), (38.64, 0.95), (38.8, 0.85), (39.11, 0.65), (39.42, 0.55), (39.73, 0.5), (39.89, 0.5), (40.04, 0.42),
    (40.35, 0.45), (40.45, 1.5), (40.67, 0.95), (40.82, 1.0), (41.13, 0.9), (41.44, 0.8), (41.76, 0.8), (42.0, 0.75),
]
oct04_magenta = [
    (0, 0.5), (0.22, 0.45), (0.37, 0.45), (0.53, 0.95), (0.68, 0.4), (0.84, 0.7), (1.0, 0.65), (1.15, 0.75), (1.24, 0.45), (1.37, 0.95),
    (1.46, 0.5), (1.62, 0.8), (2.71, 0.8), (2.86, 0.85), (2.96, 1.05), (3.11, 0.8), (3.27, 0.8), (3.39, 1.85), (3.48, 1.8), (3.64, 2.4),
    (3.89, 2.1), (4.01, 2.5), (4.1, 2.2), (4.26, 2.2), (4.42, 1.85), (4.57, 2.7), (4.79, 2.7), (4.98, 2.1), (5.2, 2.3), (5.35, 2.3),
    (5.51, 2.1), (5.73, 2.75), (5.97, 2.05), (6.13, 2.7), (6.44, 2.6), (6.75, 2.5), (6.91, 2.35), (7.06, 2.5), (7.28, 2.0), (7.47, 2.5),
    (7.69, 2.4), (8.15, 2.4), (8.31, 1.75), (8.46, 1.75), (8.62, 2.3), (8.77, 2.15), (9.02, 1.95), (9.24, 1.7), (9.4, 1.7), (9.55, 2.0),
    (9.71, 2.3), (9.96, 2.6), (10.24, 1.8), (10.39, 2.2), (10.64, 2.4), (10.8, 2.4), (10.95, 2.0), (11.11, 1.55), (11.26, 1.55), (11.42, 2.2),
    (11.57, 2.25), (11.89, 2.25), (12.04, 1.95), (12.2, 3.25), (12.35, 3.25), (12.51, 3.0), (12.66, 3.0), (12.88, 2.5), (13.07, 2.45), (13.29, 2.95),
    (13.44, 2.8), (13.6, 2.75), (13.75, 2.4), (13.91, 2.9), (14.13, 2.5), (14.38, 2.55), (15.0, 2.55), (15.25, 2.5), (15.47, 2.45), (15.62, 2.3),
    (16.0, 2.3), (16.18, 2.45), (16.4, 3.25), (16.71, 3.6), (17.02, 3.6), (17.17, 3.4), (17.43, 2.8), (17.64, 2.3), (17.8, 2.3), (18.05, 2.7),
    (18.26, 2.55), (18.42, 2.6), (18.64, 2.95), (18.89, 2.75), (19.04, 2.7), (19.2, 1.85), (19.35, 1.5), (19.51, 1.7), (19.73, 1.5), (19.82, 1.8),
    (19.91, 2.3), (19.98, 3.2), (20.22, 3.4), (20.54, 4.1), (20.66, 3.6), (20.85, 2.95), (21.0, 3.3), (21.1, 2.9), (21.23, 2.0), (21.47, 2.1),
    (21.62, 1.9), (21.84, 2.45), (22.0, 1.6), (22.15, 1.25), (22.4, 1.45), (22.62, 1.3), (22.87, 1.05), (23.09, 1.35), (23.24, 0.9), (23.4, 1.25),
    (23.65, 1.05), (24.02, 0.85), (24.18, 0.75), (24.33, 0.6), (24.49, 0.85), (24.64, 0.45), (24.8, 1.5), (25.02, 0.55), (25.17, 1.3), (25.42, 2.1),
    (25.58, 2.9), (25.73, 3.6), (25.89, 3.25), (26.04, 3.25), (26.2, 3.7), (26.35, 2.8), (26.51, 2.2), (26.66, 2.1), (26.82, 1.8), (27.13, 1.6),
    (27.44, 1.45), (27.75, 1.4), (28.06, 1.25), (28.53, 1.15), (29.15, 1.15), (29.4, 1.35), (29.62, 1.4), (29.87, 1.3), (30.09, 1.15), (30.4, 1.0),
    (30.71, 0.85), (31.02, 1.05), (31.18, 0.95), (31.49, 0.7), (32.27, 0.7), (32.42, 1.0), (32.57, 2.25), (32.73, 2.1), (32.94, 1.9), (33.1, 2.05),
    (33.35, 2.3), (33.51, 2.25), (33.82, 1.6), (33.98, 1.1), (34.13, 1.3), (34.3, 1.0), (34.44, 0.75), (34.75, 0.6), (35.07, 0.55), (35.53, 0.55),
    (35.69, 0.5), (36.0, 0.5), (36.15, 1.45), (36.31, 0.95), (36.47, 1.45), (36.77, 1.75), (37.03, 1.55), (37.25, 1.35), (37.55, 1.6), (37.86, 2.35),
    (38.17, 2.55), (38.49, 2.5), (38.64, 2.45), (38.8, 2.0), (39.02, 1.5), (39.2, 1.2), (39.58, 0.95), (39.89, 0.85), (40.2, 0.8), (40.51, 1.9),
    (40.67, 2.2), (40.82, 2.35), (40.98, 2.3), (41.29, 2.1), (41.6, 1.85), (41.91, 1.5),
]

TITLE_HALF_WIDTH = 132


def make_panel(title, label_days, labels, tick_days, navy, magenta,
               width, height, b_left, b_right, b_top, b_bottom, styles=None):
    p = figure(width=width, height=height,
               x_range=Range1d(0, 42), y_range=Range1d(0, 5),
               output_backend="svg", toolbar_location=None,
               min_border_left=b_left, min_border_right=b_right,
               min_border_top=b_top, min_border_bottom=b_bottom,
               background_fill_color="#C0C0C0", border_fill_color="white")

    frame_w = width - b_left - b_right
    # blank title used only as vertical room between the real title and the plot area
    p.add_layout(Title(text=" ", text_font_size="1px", standoff=50), "above")
    p.title.text = title
    p.title.align = "left"
    p.title.offset = frame_w / 2 - 15 - TITLE_HALF_WIDTH
    p.title.text_font = FONT
    p.title.text_font_style = "bold"
    p.title.text_font_size = "24px"
    p.title.text_color = "black"
    p.title.standoff = 10

    p.outline_line_color = "#808080"
    p.outline_line_width = 2

    # y axis
    p.yaxis.ticker = FixedTicker(ticks=[0, 1, 2, 3, 4, 5])
    p.yaxis.axis_line_color = "black"
    p.yaxis.axis_line_width = 1
    p.yaxis.major_tick_line_color = "black"
    p.yaxis.major_tick_out = 6
    p.yaxis.major_tick_in = 0
    p.yaxis.minor_tick_line_color = None
    p.yaxis.major_label_text_font = FONT
    p.yaxis.major_label_text_font_size = "21px"
    p.yaxis.major_label_text_color = "black"
    p.yaxis.major_label_standoff = 8

    # x axis: date labels at label_days, tick marks at tick_days
    p.xaxis.ticker = FixedTicker(ticks=label_days, minor_ticks=tick_days)
    p.xaxis.major_label_overrides = {d: t for d, t in zip(label_days, labels)}
    p.xaxis.axis_line_color = "#404040"
    p.xaxis.axis_line_width = 2
    p.xaxis.major_tick_out = 0
    p.xaxis.major_tick_in = 0
    p.xaxis.minor_tick_out = 6
    p.xaxis.minor_tick_in = 0
    p.xaxis.minor_tick_line_color = "black"
    p.xaxis.major_label_text_font = FONT
    p.xaxis.major_label_text_font_size = "21px"
    p.xaxis.major_label_text_color = "black"
    p.xaxis.major_label_standoff = 12

    p.xgrid.visible = False
    p.ygrid.ticker = FixedTicker(ticks=[1, 2, 3, 4])
    p.ygrid.grid_line_color = "black"
    p.ygrid.grid_line_width = 1

    nx = [d for d, v in navy]
    ny = [v for d, v in navy]
    mx = [d for d, v in magenta]
    my = [v for d, v in magenta]
    p.line(nx, ny, line_color=NAVY, line_width=1.8)
    p.line(mx, my, line_color=MAGENTA, line_width=1.8)

    if styles:
        p.styles = styles
    return p


def bar(w, h, extra=None):
    st = {"background-color": "#000000"}
    if extra:
        st.update(extra)
    return Spacer(width=w, height=h, styles=st)


def boxed(p, box_w, inner_h, right=True, bottom=True, right_shift=0):
    mid = [bar(2, inner_h), p]
    if right:
        extra = {"position": "relative", "left": "-%dpx" % right_shift} if right_shift else None
        mid.append(bar(2, inner_h, extra))
    parts = [bar(box_w, 2), row(*mid)]
    if bottom:
        parts.append(bar(box_w, 2))
    return column(*parts)


p1 = make_panel(mar02_title, mar02_label_days, mar02_labels, mar02_tick_days, mar02_navy, mar02_magenta,
                522, 412, 49, 16, 97, 72)
p2 = make_panel(oct02_title, oct02_label_days, oct02_labels, oct02_tick_days, oct02_navy, oct02_magenta,
                517, 412, 49, 9, 95, 73)
p3 = make_panel(mar03_title, mar03_label_days, mar03_labels, mar03_tick_days, mar03_navy, mar03_magenta,
                545, 404, 48, 42, 94, 72, {"clip-path": "inset(0px 25px 0px 0px)"})
p4 = make_panel(oct03_title, oct03_label_days, oct03_labels, oct03_tick_days, oct03_navy, oct03_magenta,
                519, 410, 50, 14, 94, 73)
p5 = make_panel(apr05_title, apr05_label_days, apr05_labels, apr05_tick_days, apr05_navy, apr05_magenta,
                541, 409, 48, 38, 94, 73, {"clip-path": "inset(0px 24px 0px 0px)"})
p6 = make_panel(mar04_title, mar04_label_days, mar04_labels, mar04_tick_days, mar04_navy, mar04_magenta,
                526, 411, 50, 20, 95, 74)
p7 = make_panel(oct04_title, oct04_label_days, oct04_labels, oct04_tick_days, oct04_navy, oct04_magenta,
                517, 406, 49, 17, 94, 69)

layout = column(
    Spacer(height=8, width=10),
    row(Spacer(width=8, height=10), boxed(p1, 526, 412), Spacer(width=28, height=10),
        boxed(p2, 519, 412, right=False)),
    Spacer(height=20, width=10),
    row(Spacer(width=8, height=10), column(Spacer(height=6, width=10), boxed(p3, 524, 404, right_shift=25)),
        Spacer(width=3, height=10), boxed(p4, 521, 410, right=False)),
    Spacer(height=20, width=10),
    row(Spacer(width=8, height=10), boxed(p5, 521, 409, right_shift=24),
        boxed(p6, 528, 411, right=False)),
    Spacer(height=20, width=10),
    row(Spacer(width=15, height=10), boxed(p7, 521, 406, bottom=False)),
)

open("out.html", "w").write(file_html(layout, INLINE, "6 weeks prior"))
